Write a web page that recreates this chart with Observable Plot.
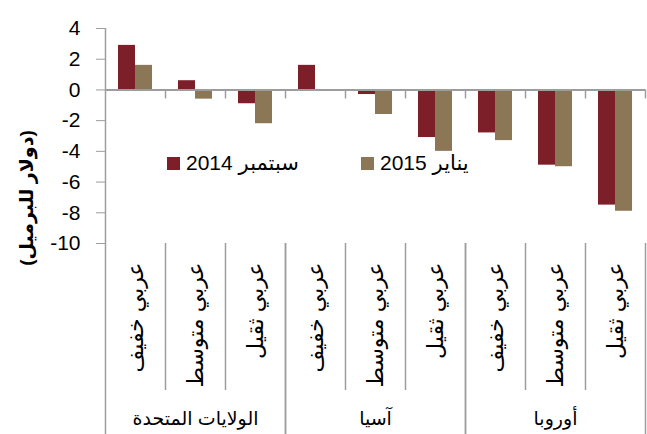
<!DOCTYPE html>
<html><head><meta charset="utf-8">
<script src="https://cdn.jsdelivr.net/npm/d3@7"></script>
<script src="https://cdn.jsdelivr.net/npm/@observablehq/plot@0.6"></script>
<style>
body{margin:0;background:#fff;}
#chart{position:relative;width:647px;height:434px;font-family:"Liberation Sans",Arial,"DejaVu Sans",sans-serif;}
.leg{position:absolute;top:151px;height:24px;line-height:24px;display:flex;align-items:center;font-size:21px;color:#000;white-space:nowrap;}
.sw{width:13px;height:13px;margin-right:6px;flex:none;}
.ylab{position:absolute;left:26px;top:198px;transform:translate(-50%,-50%) rotate(-90deg);font-size:19px;font-weight:bold;white-space:nowrap;color:#000;}
</style></head><body><div id="chart"></div>
<script>
const groups = ["الولايات المتحدة", "آسيا", "أوروبا"];
const grades = ["عربي خفيف", "عربي متوسط", "عربي ثقيل"];
const seriesNames = ["سبتمبر 2014", "يناير 2015"];
const seriesColors = ["#7d1f29", "#8b7756"];
const sep2014 = [2.9, 0.6, -0.9, 1.6, -0.3, -3.1, -2.8, -4.9, -7.5];
const jan2015 = [1.6, -0.6, -2.2, -0.1, -1.6, -4.0, -3.3, -5.0, -7.9];
const yTicks = [4, 2, 0, -2, -4, -6, -8, -10];
const yLabel = "(دولار للبرميل)";

const rows = [];
groups.forEach((g, gi) => grades.forEach((c, ci) => {
  const k = gi * 3 + ci;
  rows.push({group: g, grade: c, a: sep2014[k], b: jan2015[k]});
}));

const gray = "#9d9d9d";
const font = "'Liberation Sans', Arial, 'DejaVu Sans', sans-serif";

const plot = Plot.plot({
  width: 647, height: 434,
  marginTop: 28, marginBottom: 191, marginLeft: 105, marginRight: 2,
  style: {fontFamily: font, background: "transparent", color: "#000", overflow: "visible"},
  fx: {domain: groups, padding: 0},
  x: {domain: grades, padding: 0},
  y: {domain: [-10, 4]},
  marks: [
    Plot.barY(rows, {fx: "group", x: "grade", y: "a", fill: seriesColors[0], insetLeft: 13, insetRight: 30}),
    Plot.barY(rows, {fx: "group", x: "grade", y: "b", fill: seriesColors[1], insetLeft: 30, insetRight: 13}),
    Plot.ruleY([0], {stroke: gray, strokeWidth: 2}),
    // tick marks on the zero line at category boundaries
    Plot.ruleX(grades, {x: d => d, dx: 30, y1: 0, y2: 0, insetBottom: -9, stroke: gray, strokeWidth: 1.5}),
    // inner separators
    Plot.ruleX(grades.slice(0, 2), {x: d => d, dx: 30, insetTop: 215, insetBottom: -147, stroke: gray, strokeWidth: 1.5}),
    // group separators
    Plot.ruleX([grades[0]], {x: d => d, dx: -30, insetTop: 215, insetBottom: -191, stroke: gray, strokeWidth: 1.5}),
    Plot.ruleX([grades[2]], {x: d => d, dx: 30, insetTop: 215, insetBottom: -191, stroke: gray, strokeWidth: 1.5}),
    // y axis line
    Plot.ruleX([groups[0]], {fx: d => d, x: () => grades[0], dx: -30, stroke: gray, strokeWidth: 1.5}),
    Plot.axisY({ticks: yTicks, tickSize: 9, tickPadding: 16, fontSize: 21, tickFormat: d => String(d), stroke: gray, fill: "#000", label: null}),
    Plot.axisX({anchor: "bottom", tickSize: 0, tickPadding: 19, rotate: -90, textAnchor: "end", lineAnchor: "middle", fontSize: 22, fill: "#000", label: null}),
    Plot.axisFx({anchor: "bottom", tickSize: 0, tickPadding: 168, fontSize: 19, fill: "#000", label: null})
  ]
});

const chart = document.getElementById("chart");
chart.appendChild(plot);
const yl = document.createElement("div");
yl.className = "ylab";
yl.textContent = yLabel;
chart.appendChild(yl);
const legendLefts = [167, 361];
seriesNames.forEach((name, i) => {
  const d = document.createElement("div");
  d.className = "leg";
  d.style.left = legendLefts[i] + "px";
  d.innerHTML = `<span class="sw" style="background:${seriesColors[i]}"></span><span>${name}</span>`;
  chart.appendChild(d);
});
</script>
</body></html>
